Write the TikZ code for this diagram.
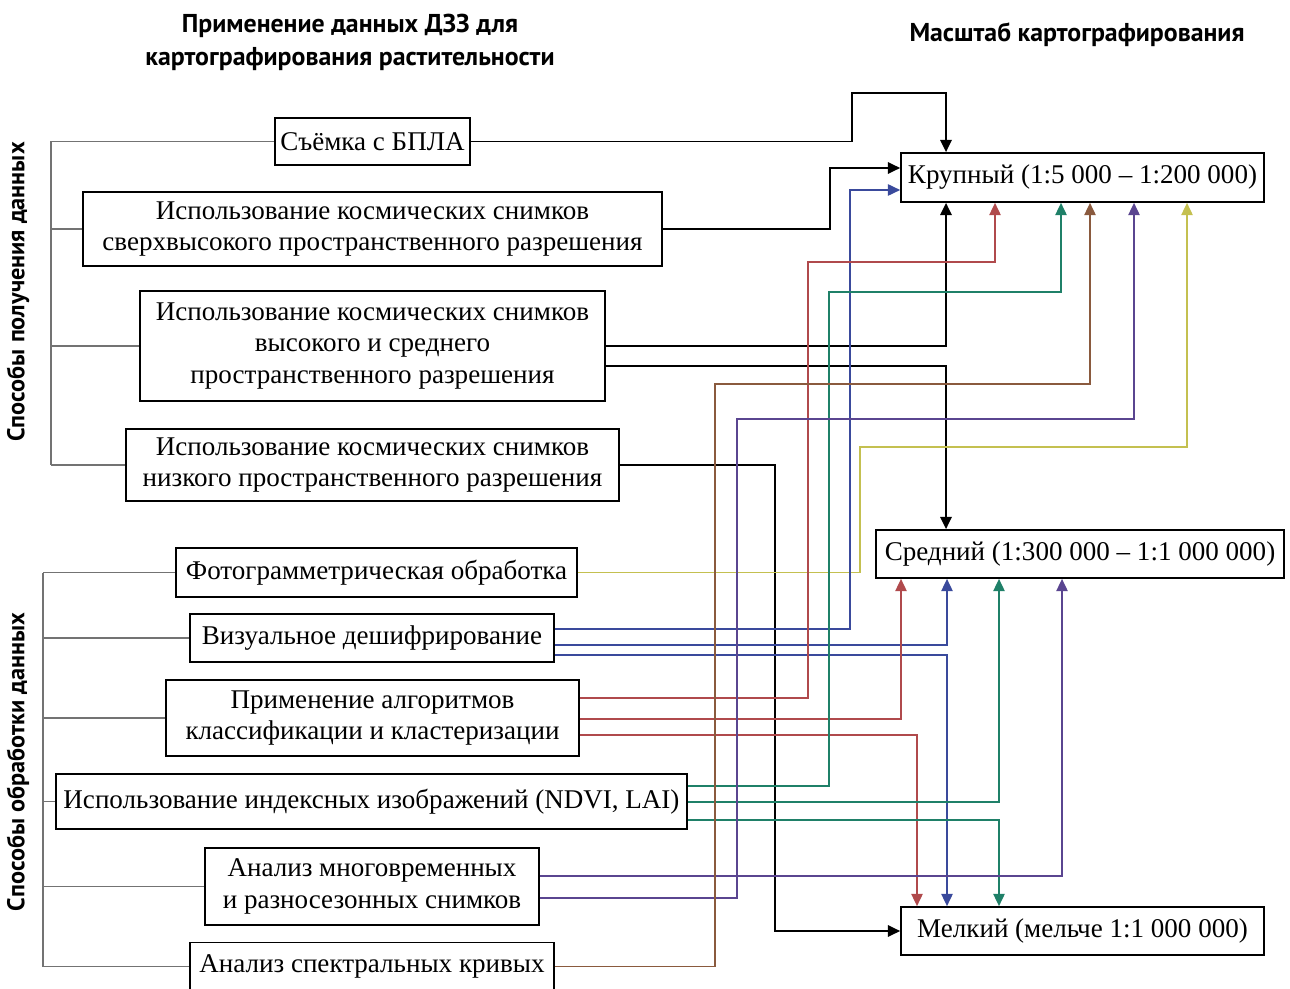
\documentclass[tikz,border=0pt]{standalone}
\usepackage{fontspec}
\setmainfont{Liberation Serif}
\newfontfamily\headfont{PT Sans}
\usetikzlibrary{arrows.meta}

\definecolor{lnred}{HTML}{B04A4C}
\definecolor{lnblue}{HTML}{3A4A9C}
\definecolor{lngreen}{HTML}{1F8068}
\definecolor{lnbrown}{HTML}{8A5A3E}
\definecolor{lnpurple}{HTML}{5A4590}
\definecolor{lnyellow}{HTML}{C4C050}

\begin{document}
\begin{tikzpicture}[
    x=0.02cm, y=-0.02cm,
    font=\fontsize{15.4}{17.8}\selectfont,
    box/.style={draw, line width=1pt, align=center, inner xsep=2pt, inner ysep=1pt},
    head/.style={font=\headfont\bfseries\fontsize{14.7}{18.7}\selectfont, align=center},
    side/.style={font=\headfont\bfseries\fontsize{13.8}{16}\selectfont, rotate=90},
    brk/.style={draw=black!55, line width=0.9pt},
    link/.style={-{Triangle[length=7pt,width=6.5pt]}, line width=0.8pt},
    blk/.style={link, line width=1.1pt, black}
]
    \useasboundingbox (0,0) rectangle (1290,989);

    % headings
    \node[head] (title) at (350,42) {Применение данных ДЗЗ для\\картографирования растительности};
    \node[head] (scale) at (1077,35) {Масштаб картографирования};
    \node[side] (getlbl) at (18,292) {Способы получения данных};
    \node[side] (proclbl) at (18,762) {Способы обработки данных};

    % data acquisition
    \node[box, minimum width=3.9cm, minimum height=0.94cm] (b1) at (372.5,141.5) {Съёмка с БПЛА};
    \node[box, minimum width=11.58cm, minimum height=1.48cm] (b2) at (372.5,229) {Использование космических снимков\\сверхвысокого пространственного разрешения};
    \node[box, minimum width=9.3cm, minimum height=2.2cm] (b3) at (372.5,346) {Использование космических снимков\\высокого и среднего\\пространственного разрешения};
    \node[box, minimum width=9.86cm, minimum height=1.44cm] (b4) at (372.5,465) {Использование космических снимков\\низкого пространственного разрешения};

    % data processing
    \node[box, minimum width=8.02cm, minimum height=0.98cm] (b5) at (376.5,572.5) {Фотограмметрическая обработка};
    \node[box, minimum width=7.28cm, minimum height=0.96cm] (b6) at (372,638) {Визуальное дешифрирование};
    \node[box, minimum width=8.26cm, minimum height=1.52cm] (b7) at (372.5,718) {Применение алгоритмов\\классификации и кластеризации};
    \node[box, minimum width=12.62cm, minimum height=1.1cm] (b8) at (371.5,801.5) {Использование индексных изображений (NDVI, LAI)};
    \node[box, minimum width=6.68cm, minimum height=1.54cm] (b9) at (372,886.5) {Анализ многовременных\\и разносезонных снимков};
    \node[box, minimum width=7.28cm, minimum height=0.96cm] (b10) at (372,966.5) {Анализ спектральных кривых};

    % mapping scale
    \node[box, minimum width=7.26cm, minimum height=0.98cm] (big) at (1082.5,177.5) {Крупный (1:5~000 -- 1:200~000)};
    \node[box, minimum width=8.16cm, minimum height=0.96cm] (mid) at (1080,554) {Средний (1:300~000 -- 1:1~000~000)};
    \node[box, minimum width=7.26cm, minimum height=0.96cm] (small) at (1082.5,931) {Мелкий (мельче 1:1~000~000)};

    % brackets
    \foreach \b in {b1,b2,b3,b4}
        \draw[brk] (\b.west) -- (\b.west -| 51,0);
    \draw[brk] (b1.west -| 51,0) -- (b4.west -| 51,0);
    \foreach \b in {b5,b6,b7,b8,b9,b10}
        \draw[brk] (\b.west) -- (\b.west -| 43,0);
    \draw[brk] (b5.west -| 43,0) -- (b10.west -| 43,0);

    % black
    \draw[blk] (b1.east) -| (852,93) -| (big.north -| 946,0);
    \draw[blk] (b2.east) -| (830,168) -- (big.west |- 0,168);
    \draw[blk] (b3.east |- 0,346) -| (big.south -| 946,0);
    \draw[blk] (b3.east |- 0,366) -| (mid.north -| 946,0);
    \draw[blk] (b4.east) -| (775,931) -- (small.west);

    % yellow
    \draw[link, lnyellow] (b5.east) -| (860,447) -| (big.south -| 1187,0);

    % blue
    \draw[link, lnblue] (b6.east |- 0,629) -| (850,190) -- (big.west |- 0,190);
    \draw[link, lnblue] (b6.east |- 0,645) -| (mid.south -| 947,0);
    \draw[link, lnblue] (b6.east |- 0,655) -| (small.north -| 947,0);

    % red
    \draw[link, lnred] (b7.east |- 0,698) -| (808,262) -| (big.south -| 995,0);
    \draw[link, lnred] (b7.east |- 0,719) -| (mid.south -| 901,0);
    \draw[link, lnred] (b7.east |- 0,735) -| (small.north -| 917,0);

    % green
    \draw[link, lngreen] (b8.east |- 0,786) -| (829,292) -| (big.south -| 1061,0);
    \draw[link, lngreen] (b8.east |- 0,802) -| (mid.south -| 999,0);
    \draw[link, lngreen] (b8.east |- 0,820) -| (small.north -| 999,0);

    % purple
    \draw[link, lnpurple] (b9.east |- 0,876) -| (mid.south -| 1062,0);
    \draw[link, lnpurple] (b9.east |- 0,898) -| (737,419) -| (big.south -| 1134,0);

    % brown
    \draw[link, lnbrown] (b10.east) -| (715,384) -| (big.south -| 1090,0);
\end{tikzpicture}
\end{document}
